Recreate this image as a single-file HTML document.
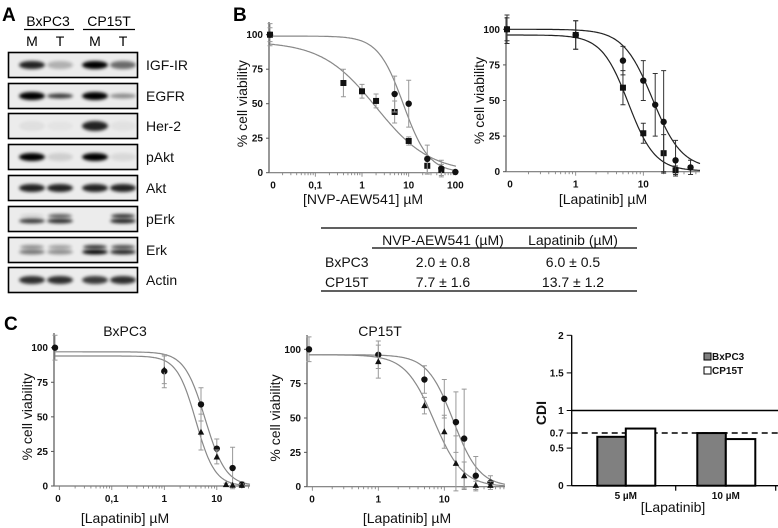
<!DOCTYPE html>
<html><head><meta charset="utf-8"><style>
html,body{margin:0;padding:0;background:#fff;}
svg{display:block;font-family:"Liberation Sans",Arial,sans-serif;}
.tk{font-size:10px;font-weight:bold;fill:#111;}
.ttl{font-size:14px;fill:#111;}
</style></head><body>
<svg id="fig" width="778" height="528" viewBox="0 0 778 528" xmlns="http://www.w3.org/2000/svg">
<defs><filter id="bl" x="-30%" y="-100%" width="160%" height="300%"><feGaussianBlur stdDeviation="1.6"/></filter></defs>
<g id="static">
<text x="2" y="21" font-size="19" font-weight="bold">A</text>
<text x="233" y="21" font-size="19" font-weight="bold">B</text>
<text x="4" y="330" font-size="19" font-weight="bold">C</text>
<text x="48" y="26" font-size="14" text-anchor="middle">BxPC3</text>
<line x1="24" y1="29.5" x2="74" y2="29.5" stroke="#000" stroke-width="1.3"/>
<text x="109" y="26" font-size="14" text-anchor="middle">CP15T</text>
<line x1="83" y1="29.5" x2="135" y2="29.5" stroke="#000" stroke-width="1.3"/>
<text x="32" y="46" font-size="14" text-anchor="middle">M</text>
<text x="60" y="46" font-size="14" text-anchor="middle">T</text>
<text x="95" y="46" font-size="14" text-anchor="middle">M</text>
<text x="123" y="46" font-size="14" text-anchor="middle">T</text>
</g>
<g id="blots"></g>
<g id="b1"></g><g id="b2"></g><g id="c1"></g><g id="c2"></g><g id="c3"></g>
<g id="tbl">
<line x1="321" y1="228" x2="637" y2="228" stroke="#000" stroke-width="1.3"/>
<line x1="372" y1="248" x2="637" y2="248" stroke="#000" stroke-width="1.3"/>
<line x1="321" y1="291" x2="637" y2="291" stroke="#000" stroke-width="1.3"/>
<text x="443" y="245" class="ttl" text-anchor="middle">NVP-AEW541 (µM)</text>
<text x="573" y="245" class="ttl" text-anchor="middle">Lapatinib (µM)</text>
<text x="325" y="267" class="ttl">BxPC3</text>
<text x="443" y="267" class="ttl" text-anchor="middle">2.0 ± 0.8</text>
<text x="573" y="267" class="ttl" text-anchor="middle">6.0 ± 0.5</text>
<text x="325" y="287" class="ttl">CP15T</text>
<text x="443" y="287" class="ttl" text-anchor="middle">7.7 ± 1.6</text>
<text x="573" y="287" class="ttl" text-anchor="middle">13.7 ± 1.2</text>
</g>
</svg>
<script>
// ---- Western blot data ----
const blotNames = ["IGF-IR","EGFR","Her-2","pAkt","Akt","pErk","Erk","Actin"];
const blotTops = [52,83,113,144,175,206,237,267];
const blotIntensity = [[0.85,0.25,1,0.55],[1,0.75,1,0.4],[0.05,0.03,0.85,0.04],[1,0.12,1,0.08],[0.85,0.85,0.85,0.85],[0.75,0.8,0.0,0.85],[0.5,0.4,1,0.85],[0.8,0.8,0.75,0.8]];
const blotUpper = [0.1,0.6,0,0.8];
const laneX = [32,60,95,123];

// ---- Panel B left (NVP-AEW541) ----
const b1Doses = [0,0.4,1,2,5,10,25,50];
const b1Sq = [100,65,59,52,44,23,5,2];
const b1SqErr = [8,10,5,5,8,3,6,4];
const b1CiDoses = [0,5,10,25,50,100];
const b1Ci = [100,57,50,10,3,0.5];
const b1CiErr = [5,13,17,10,6,1];
const b1SqFit = [95,0,2.0,0.75];
const b1CiFit = [99,0,7.7,1.6];
// ---- Panel B right (Lapatinib) ----
const b2SqDoses = [0,1,5,10,20,30];
const b2Sq = [100,96,59,27,13,1];
const b2SqErr = [8,10,12,7,13,3];
const b2CiDoses = [0,1,5,10,15,20,30,50];
const b2Ci = [100,96,78,64,47,35,8,3];
const b2CiErr = [10,10,10,14,22,36,14,5];
const b2SqFit = [96,0.5,6.0,2.2];
const b2CiFit = [100,2,13.7,2.0];
// ---- Panel C BxPC3 ----
const c1CiDoses = [0,1,5,10,20,30];
const c1Ci = [100,83,59,27,13,1];
const c1CiErr = [9,12,12,7,15,2];
const c1TrDoses = [1,5,10,15,20,30];
const c1Tr = [84,39,21,1,0.5,0.5];
const c1TrErr = [10,13,5,1,1,1];
const c1CiFit = [97,0,6.0,2.2];
const c1TrFit = [94,0,4.0,2.4];
// ---- Panel C CP15T ----
const c2CiDoses = [0,1,5,10,15,20,30,50];
const c2Ci = [100,96,78,64,47,35,8,3];
const c2CiErr = [9,10,10,14,22,36,14,5];
const c2TrDoses = [1,5,10,15,20,30,50];
const c2Tr = [91,59,40,17,8,1,1];
const c2TrErr = [12,6,12,20,10,3,3];
const c2CiFit = [96,0,13.7,2.2];
const c2TrFit = [96,0,7.0,2.0];
// ---- Panel C CDI bars ----
const cdiCats = ["5 µM","10 µM"];
const cdiBx = [0.65,0.70];
const cdiCp = [0.76,0.62];
const cdiTicks = [0,0.5,0.7,1,1.5,2];

const NS="http://www.w3.org/2000/svg";
function mk(parent,tag,attrs){const e=document.createElementNS(NS,tag);for(const k in attrs)e.setAttribute(k,attrs[k]);parent.appendChild(e);return e;}
function txt(parent,x,y,s,cls,anchor){const e=mk(parent,"text",{x:x,y:y,class:cls,"text-anchor":anchor||"middle"});e.textContent=s;return e;}

// blots
const gb=document.getElementById("blots");
blotNames.forEach((nm,i)=>{
  const top=blotTops[i];
  const box=mk(gb,"rect",{x:8.5,y:top+0.5,width:129,height:25,fill:"#ececec",stroke:"#000","stroke-width":1.6});
  
  
  laneX.forEach((lx,j)=>{
    const v=blotIntensity[i][j]; if(v<=0.01) return;
    const h = nm==="Her-2"?8:(nm==="EGFR"&&j%2===1?3:6);
    if(nm==="pErk"||nm==="Erk"){
      const up = nm==="pErk"?blotUpper[j]:v*0.8;
      const b1=mk(gb,"ellipse",{cx:lx,cy:top+10,rx:12,ry:2,fill:"#000",opacity:up,filter:"url(#bl)"});
      
      
      const b2=mk(gb,"ellipse",{cx:lx,cy:top+15,rx:13,ry:2.4,fill:"#000",opacity:v,filter:"url(#bl)"});
      
      
    } else {
      const b=mk(gb,"ellipse",{cx:lx,cy:top+13,rx:13,ry:h/2+1,fill:"#000",opacity:v,filter:"url(#bl)"});
      
      
    }
  });
  const l=txt(gb,146,top+18,nm,"ttl","start");
  
  
});

function doseChart(id,cfg){
  const g=document.getElementById(id);
  const X=d=>d===0?cfg.zeroX:cfg.oneX+cfg.dec*Math.log10(d);
  const Y=v=>cfg.y0+(cfg.y100-cfg.y0)*v/100;
  const col=cfg.col;
  const ya=mk(g,"line",{x1:cfg.axX,y1:cfg.yTop,x2:cfg.axX,y2:cfg.y0,stroke:"#555","stroke-width":1.2});
  
  
  const xa=mk(g,"line",{x1:cfg.axX,y1:cfg.y0,x2:cfg.xEnd,y2:cfg.y0,stroke:"#777","stroke-width":1.2});
  
  
  [0,25,50,75,100].forEach(v=>{
    mk(g,"line",{x1:cfg.axX-3,y1:Y(v),x2:cfg.axX,y2:Y(v),stroke:"#555"});
    const t=txt(g,cfg.axX-6,Y(v)+3.5,String(v),"tk","end");
    
    
  });
  cfg.xt.forEach((d,k)=>{
    const t=txt(g,d===0?cfg.zeroX+3:X(d),cfg.y0+16,cfg.xl[k],"tk");
    
    
  });
  for(let e=cfg.eMin;e<=cfg.eMax;e++){for(let m=1;m<10;m++){const px=X(m*Math.pow(10,e));if(px>cfg.zeroX+2&&px<cfg.xEnd)mk(g,"line",{x1:px,y1:cfg.y0,x2:px,y2:cfg.y0+(m===1?4:2.5),stroke:"#777","stroke-width":0.8});}}
  const yl=mk(g,"text",{x:0,y:0,class:"ttl","text-anchor":"middle",transform:`translate(${cfg.ylX},${(cfg.y0+cfg.y100)/2}) rotate(-90)`});
  yl.textContent="% cell viability";
  
  
  const xl=txt(g,cfg.xlX,cfg.xlY,cfg.xTitle,"ttl");
  
  
  if(cfg.title){const t=txt(g,cfg.titleX,336,cfg.title,"ttl");}
  cfg.series.forEach(s=>{
    const [top,bot,ic,h]=s.fit; let d="";
    for(let px=cfg.zeroX;px<=cfg.xEnd;px+=1){const dose=Math.pow(10,(px-cfg.oneX)/cfg.dec);const v=bot+(top-bot)/(1+Math.pow(dose/ic,h));d+=(d?"L":"M")+px.toFixed(1)+","+Y(v).toFixed(1);}
    const p=mk(g,"path",{d:d,fill:"none",stroke:col,"stroke-width":1.2});
    
    
    s.x.forEach((dv,k)=>{
      const cx=X(dv),cy=Y(s.y[k]),er=s.e[k];
      const eb=mk(g,"path",{d:`M${cx},${Y(s.y[k]+er)}V${Y(Math.max(s.y[k]-er,-3))}M${cx-2.5},${Y(s.y[k]+er)}h5M${cx-2.5},${Y(Math.max(s.y[k]-er,-3))}h5`,stroke:cfg.ecol,"stroke-width":1,fill:"none"});
      
      
      let m;
      if(s.shape==="sq") m=mk(g,"rect",{x:cx-3,y:cy-3,width:6,height:6,fill:"#111"});
      else if(s.shape==="tri") m=mk(g,"path",{d:`M${cx},${cy-3.5}L${cx+3.2},${cy+2.5}L${cx-3.2},${cy+2.5}Z`,fill:"#111"});
      else m=mk(g,"circle",{cx:cx,cy:cy,r:3.2,fill:"#111"});
      
      
    });
  });
}
doseChart("b1",{zeroX:270,oneX:362,dec:46.7,y0:172.7,y100:34.7,axX:269,xEnd:456,yTop:22,xt:[0,0.1,1,10,100],xl:["0","0,1","1","10","100"],eMin:-2,eMax:1,ylX:247,xlX:363,xlY:204,xTitle:"[NVP-AEW541] µM",col:"#888",ecol:"#999",
 series:[{name:"square",shape:"sq",x:b1Doses,y:b1Sq,e:b1SqErr,fit:b1SqFit},{name:"circle",shape:"ci",x:b1CiDoses,y:b1Ci,e:b1CiErr,fit:b1CiFit}]});
doseChart("b2",{zeroX:507,oneX:575.7,dec:67.6,y0:171.7,y100:29.3,axX:506,xEnd:700,yTop:17,xt:[0,1,10],xl:["0","1","10"],eMin:-1,eMax:1,ylX:484,xlX:603,xlY:204,xTitle:"[Lapatinib] µM",col:"#222",ecol:"#333",
 series:[{name:"square",shape:"sq",x:b2SqDoses,y:b2Sq,e:b2SqErr,fit:b2SqFit},{name:"circle",shape:"ci",x:b2CiDoses,y:b2Ci,e:b2CiErr,fit:b2CiFit}]});
doseChart("c1",{zeroX:55,oneX:164.3,dec:52.5,y0:486,y100:347.7,axX:54,xEnd:250,yTop:333,xt:[0,0.1,1,10],xl:["0","0,1","1","10"],eMin:-2,eMax:1,ylX:32,xlX:125,xlY:523,xTitle:"[Lapatinib] µM",title:"BxPC3",titleX:125,col:"#888",ecol:"#999",
 series:[{name:"circle",shape:"ci",x:c1CiDoses,y:c1Ci,e:c1CiErr,fit:c1CiFit},{name:"triangle",shape:"tri",x:c1TrDoses,y:c1Tr,e:c1TrErr,fit:c1TrFit}]});
doseChart("c2",{zeroX:309,oneX:378.3,dec:66,y0:486.7,y100:349.3,axX:307,xEnd:505,yTop:335,xt:[0,1,10],xl:["0","1","10"],eMin:-1,eMax:1,ylX:280,xlX:407,xlY:523,xTitle:"[Lapatinib] µM",title:"CP15T",titleX:380,col:"#888",ecol:"#999",
 series:[{name:"circle",shape:"ci",x:c2CiDoses,y:c2Ci,e:c2CiErr,fit:c2CiFit},{name:"triangle",shape:"tri",x:c2TrDoses,y:c2Tr,e:c2TrErr,fit:c2TrFit}]});

// CDI bar chart
(function(){
  const g=document.getElementById("c3");
  const y0=485.7,unit=75.2,axX=571.7,xEnd=778;
  const Y=v=>y0-v*unit;
  const ya=mk(g,"line",{x1:axX,y1:Y(2),x2:axX,y2:y0,stroke:"#000","stroke-width":1.3});
  
  
  const xa=mk(g,"line",{x1:axX,y1:y0,x2:xEnd,y2:y0,stroke:"#000","stroke-width":1.3});
  
  
  [675.7,775.7].forEach(px=>mk(g,"line",{x1:px,y1:y0,x2:px,y2:y0+5,stroke:"#000","stroke-width":1.2}));
  cdiTicks.forEach(v=>{
    mk(g,"line",{x1:axX-5,y1:Y(v),x2:axX,y2:Y(v),stroke:"#000"});
    const t=txt(g,axX-8,Y(v)+3.5,String(v),"tk","end");
    
    
  });
  const l1=mk(g,"line",{x1:axX,y1:Y(1),x2:xEnd,y2:Y(1),stroke:"#000","stroke-width":1.5});
  
  
  const l7=mk(g,"line",{x1:axX,y1:Y(0.7),x2:xEnd,y2:Y(0.7),stroke:"#000","stroke-width":1.5,"stroke-dasharray":"6,4"});
  
  
  const groupX=[597.3,697.3],bw=28.5;
  cdiCats.forEach((c,i)=>{
    const r1=mk(g,"rect",{x:groupX[i],y:Y(cdiBx[i]),width:bw,height:cdiBx[i]*unit,fill:"#808080",stroke:"#000","stroke-width":2});
    
    
    const r2=mk(g,"rect",{x:groupX[i]+bw,y:Y(cdiCp[i]),width:bw+1,height:cdiCp[i]*unit,fill:"#fff",stroke:"#000","stroke-width":2});
    
    
    const t=txt(g,groupX[i]+bw,499,c,"tk");
    
    
  });
  const xt=txt(g,673,512,"[Lapatinib]","ttl");
  
  
  const yt=mk(g,"text",{x:0,y:0,class:"ttl","text-anchor":"middle","font-weight":"bold",transform:"translate(546,413) rotate(-90)"});
  yt.textContent="CDI";
  
  
  const s1=mk(g,"rect",{x:704,y:353,width:7,height:7,fill:"#808080",stroke:"#000"});
  
  
  const t1=txt(g,712,360,"BxPC3","tk","start");
  
  
  const s2=mk(g,"rect",{x:704,y:367,width:7,height:7,fill:"#fff",stroke:"#000"});
  
  
  const t2=txt(g,712,374,"CP15T","tk","start");
  
  
})();
</script>
</body></html>
